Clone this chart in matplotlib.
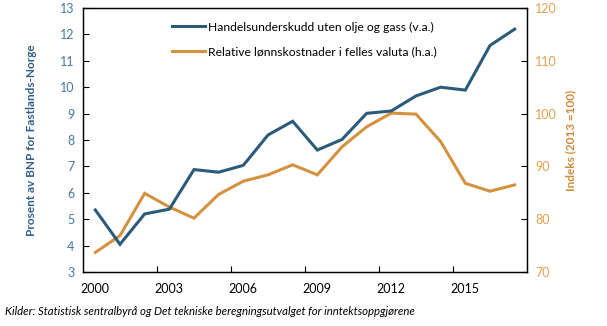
import matplotlib
matplotlib.use('Agg')
from matplotlib import pyplot as plt

# Data
years = list(range(2000, 2018))
handel = [5.35, 4.05, 5.2, 5.38, 6.88, 6.78, 7.04, 8.19, 8.71, 7.62, 8.02,
          9.01, 9.1, 9.67, 10.0, 9.89, 11.58, 12.2]
lonn = [73.7, 76.9, 84.9, 82.3, 80.2, 84.7, 87.2, 88.4, 90.3, 88.4, 93.7,
        97.5, 100.1, 99.9, 94.7, 86.8, 85.3, 86.5]
xticklabels = ['2000', '2003', '2006', '2009', '2012', '2015']

blue = '#2b5b7a'
orange = '#d4923f'

plt.rcParams['font.family'] = ['Lato', 'DejaVu Sans']

fig = plt.figure(figsize=(6.07, 3.26), dpi=100)
ax = fig.add_axes([83/607, 54/326, 444/607, 264/326])
ax2 = ax.twinx()

x = list(range(len(years)))
l1, = ax.plot(x, handel, color=blue, lw=2.2, solid_joinstyle='miter',
              label='Handelsunderskudd uten olje og gass (v.a.)')
l2, = ax2.plot(x, lonn, color=orange, lw=2.2, solid_joinstyle='miter',
               label='Relative lønnskostnader i felles valuta (h.a.)')
ax.set_zorder(ax2.get_zorder() + 1)
ax.patch.set_visible(False)

ax.set_xlim(-0.5, len(years) - 0.5)
ax.set_xticks([i - 0.5 for i in range(3, len(years), 3)])
ax.set_xticklabels([])
ax.set_xticks(list(range(0, len(years), 3)), minor=True)
ax.set_xticklabels(xticklabels, minor=True, fontsize=9)
ax.tick_params(axis='x', which='major', direction='in', length=4, width=0.8)
ax.tick_params(axis='x', which='minor', length=0, pad=8)

ax.set_ylim(3, 13)
ax.set_yticks(range(3, 14))
ax.tick_params(axis='y', direction='in', length=4, width=0.8,
               labelcolor='#4677a3', labelsize=9, pad=6)
ax.set_ylabel('Prosent av BNP for Fastlands-Norge', color='#2e5f87',
              fontsize=8.5, fontweight='bold', labelpad=17)

ax2.set_ylim(70, 120)
ax2.set_yticks(range(70, 121, 10))
ax2.tick_params(axis='y', direction='in', length=4, width=0.8,
                labelcolor='#e0a050', labelsize=9, pad=6)
ax2.set_ylabel('Indeks (2013 =100)', color='#d08a3a', fontsize=8.5,
               fontweight='bold', labelpad=6)

for a in (ax, ax2):
    for s in a.spines.values():
        s.set_linewidth(0.9)
        s.set_color('black')

ax.legend(handles=[l1, l2], loc='upper left', bbox_to_anchor=(0.175, 0.99),
          frameon=False, fontsize=8.7, handlelength=2.8, handletextpad=0.2,
          labelspacing=1.15)

fig.text(0.008, 0.035, 'Kilder: Statistisk sentralbyrå og Det tekniske '
         'beregningsutvalget for inntektsoppgjørene', fontsize=8.2,
         style='italic')

fig.savefig('out.png', dpi=100)
